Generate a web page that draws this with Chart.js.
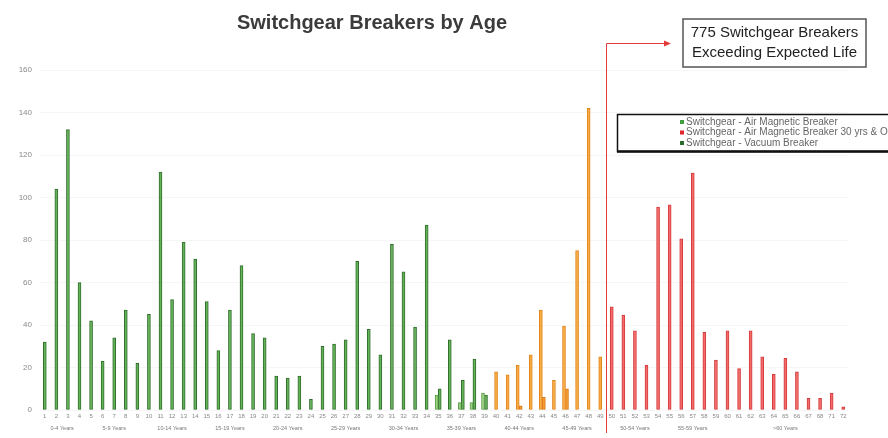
<!DOCTYPE html>
<html>
<head>
<meta charset="utf-8">
<script src="https://cdn.jsdelivr.net/npm/chart.js@4/dist/chart.umd.min.js"></script>
<style>
html, body { margin: 0; padding: 0; background: #fff; }
#wrap { width: 888px; height: 438px; }
</style>
</head>
<body>
<div id="wrap"><canvas id="myChart"></canvas></div>
<script>
// age categories (69 and 70 are not in the source chart)
const ages = ["1","2","3","4","5","6","7","8","9","10","11","12","13","14","15","16","17","18","19","20",
  "21","22","23","24","25","26","27","28","29","30","31","32","33","34","35","36","37","38","39","40",
  "41","42","43","44","45","46","47","48","49","50","51","52","53","54","55","56","57","58","59","60",
  "61","62","63","64","65","66","67","68","71","72"];

// Vacuum breakers, ages 1-39
const vacuumAges = ["1","2","3","4","5","6","7","8","9","10","11","12","13","14","15","16","17","18","19","20",
  "21","22","23","24","25","26","27","28","29","30","31","32","33","34","35","36","37","38","39"];
const vacuumValues = [32,104,132,60,42,23,34,47,22,45,112,52,79,71,51,28,47,68,36,34,
  16,15,16,5,30,31,33,70,38,26,78,65,39,87,10,33,14,24,7];

// Air magnetic breakers (light green), ages 35-39
const airAges = ["35","37","38","39"];
const airValues = [7,3.5,3.5,8];

// Approaching end of life (orange), ages 40-49
const orangeAges = ["40","41","42","43","44","45","46","47","48","49"];
const orangeValues = [18,16.5,21,26,47,14,39.5,75,142,25];
const orangeSmallAges = ["42","44","46"];
const orangeSmallValues = [2,6,10];

// Air magnetic 30 yrs & older (red), ages 50+
const redAges = ["50","51","52","53","54","55","56","57","58","59","60","61","62","63","64","65","66","67","68","71","72"];
const redValues = [48.6,44.7,37.3,21,95.5,96.5,80.5,111.5,36.5,23.5,37.3,19.5,37.3,25,16.8,24.3,18,5.5,5.5,8,1.5];

// age bands written under the axis
const bandLabels = ["0-4 Years","5-9 Years","10-14 Years","15-19 Years","20-24 Years","25-29 Years",
  "30-34 Years","35-39 Years","40-44 Years","45-49 Years","50-54 Years","55-59 Years",">60 Years"];
const bandFrom = ["1","5","10","15","20","25","30","35","40","45","50","55","60"];
const bandTo   = ["4","9","14","19","24","29","34","39","44","49","54","59","72"];

const titleText = "Switchgear Breakers by Age";
const noteLines = ["775 Switchgear Breakers", "Exceeding Expected Life"];

function place(keys, vals) {
  return ages.map(a => {
    const i = keys.indexOf(a);
    return i < 0 ? null : vals[i];
  });
}

const FONT = '"Liberation Sans", Arial, sans-serif';

const overlay = {
  id: "overlay",
  afterDraw(chart) {
    const ctx = chart.ctx;
    const xs = chart.scales.x;
    ctx.save();

    // title
    ctx.fillStyle = "#3b3b3b";
    ctx.font = "bold 20px " + FONT;
    ctx.textAlign = "center";
    ctx.textBaseline = "middle";
    ctx.fillText(titleText, 372, 23);

    // age bands
    ctx.font = "5.5px " + FONT;
    ctx.fillStyle = "#777";
    bandLabels.forEach((t, i) => {
      const a = xs.getPixelForValue(ages.indexOf(bandFrom[i]));
      const b = xs.getPixelForValue(ages.indexOf(bandTo[i]));
      ctx.fillText(t, (a + b) / 2, 428);
    });

    // red marker line + arrow
    const lx = Math.round((xs.getPixelForValue(ages.indexOf("49")) + xs.getPixelForValue(ages.indexOf("50"))) / 2) + 0.5;
    ctx.strokeStyle = "#e33b3b";
    ctx.lineWidth = 1;
    ctx.beginPath();
    ctx.moveTo(lx, 433);
    ctx.lineTo(lx, 43.5);
    ctx.lineTo(665, 43.5);
    ctx.stroke();
    ctx.fillStyle = "#e33b3b";
    ctx.beginPath();
    ctx.moveTo(671, 43.5);
    ctx.lineTo(664, 40.5);
    ctx.lineTo(664, 46.5);
    ctx.closePath();
    ctx.fill();

    // note box
    ctx.fillStyle = "#fff";
    ctx.fillRect(683, 19, 183, 48);
    ctx.strokeStyle = "#555";
    ctx.lineWidth = 1.5;
    ctx.strokeRect(683, 19, 183, 48);
    ctx.fillStyle = "#222";
    ctx.font = "15px " + FONT;
    ctx.fillText(noteLines[0], 774.5, 33);
    ctx.fillText(noteLines[1], 774.5, 53);

    // legend box
    ctx.fillStyle = "#fff";
    ctx.fillRect(617, 114, 275, 38);
    ctx.strokeStyle = "#111";
    ctx.lineWidth = 1.5;
    ctx.strokeRect(617.5, 114.5, 275, 37);
    ctx.lineWidth = 2.5;
    ctx.beginPath();
    ctx.moveTo(617, 151.5);
    ctx.lineTo(888, 151.5);
    ctx.stroke();
    const shown = [0, 4, 1];
    const rowY = [122, 132.5, 143];
    ctx.font = "10px " + FONT;
    ctx.textAlign = "left";
    shown.forEach((di, r) => {
      const ds = chart.data.datasets[di];
      ctx.fillStyle = ds.legendColor;
      ctx.fillRect(680, rowY[r] - 2, 4, 4);
      ctx.fillStyle = "#666";
      ctx.fillText(ds.label, 686, rowY[r]);
    });
    ctx.restore();
  }
};

const barStyle = { barThickness: 3, borderWidth: 1, borderSkipped: false, skipNull: true };

new Chart(document.getElementById("myChart"), {
  type: "bar",
  data: {
    labels: ages,
    datasets: [
      Object.assign({ label: "Switchgear - Air Magnetic Breaker", data: place(airAges, airValues),
        backgroundColor: "#9fd486", borderColor: "#5c9e48", legendColor: "#3f9e3f" }, barStyle),
      Object.assign({ label: "Switchgear - Vacuum Breaker", data: place(vacuumAges, vacuumValues),
        backgroundColor: "#66b25a", borderColor: "#2f6e2b", legendColor: "#2a6a2a" }, barStyle),
      Object.assign({ label: "Breakers 40-49 yrs", data: place(orangeAges, orangeValues),
        backgroundColor: "#f9ac45", borderColor: "#e0861c", legendColor: "#f9ac45" }, barStyle),
      Object.assign({ label: "Breakers 40-49 yrs (other)", data: place(orangeSmallAges, orangeSmallValues),
        backgroundColor: "#f59a30", borderColor: "#d9781a", legendColor: "#f59a30" }, barStyle),
      Object.assign({ label: "Switchgear - Air Magnetic Breaker 30 yrs & Older", data: place(redAges, redValues),
        backgroundColor: "#f56b6b", borderColor: "#d23c3c", legendColor: "#e0262b" }, barStyle)
    ]
  },
  options: {
    responsive: true,
    maintainAspectRatio: false,
    animation: false,
    layout: { padding: { top: 70, right: 39, left: 0, bottom: 0 } },
    plugins: { legend: { display: false }, tooltip: { enabled: false } },
    scales: {
      x: {
        afterFit: s => { s.height = 28; },
        grid: { display: false, drawTicks: false },
        border: { display: false },
        ticks: { autoSkip: false, maxRotation: 0, minRotation: 0, padding: 3,
          color: "#888", font: { size: 6, family: FONT } }
      },
      y: {
        min: 0, max: 160,
        afterFit: s => { s.width = 39; },
        grid: { color: "rgba(0,0,0,0.035)", drawTicks: false },
        border: { display: false },
        ticks: { stepSize: 20, padding: 7, color: "#8a8a8a", font: { size: 8, family: FONT } }
      }
    }
  },
  plugins: [overlay]
});
</script>
</body>
</html>
